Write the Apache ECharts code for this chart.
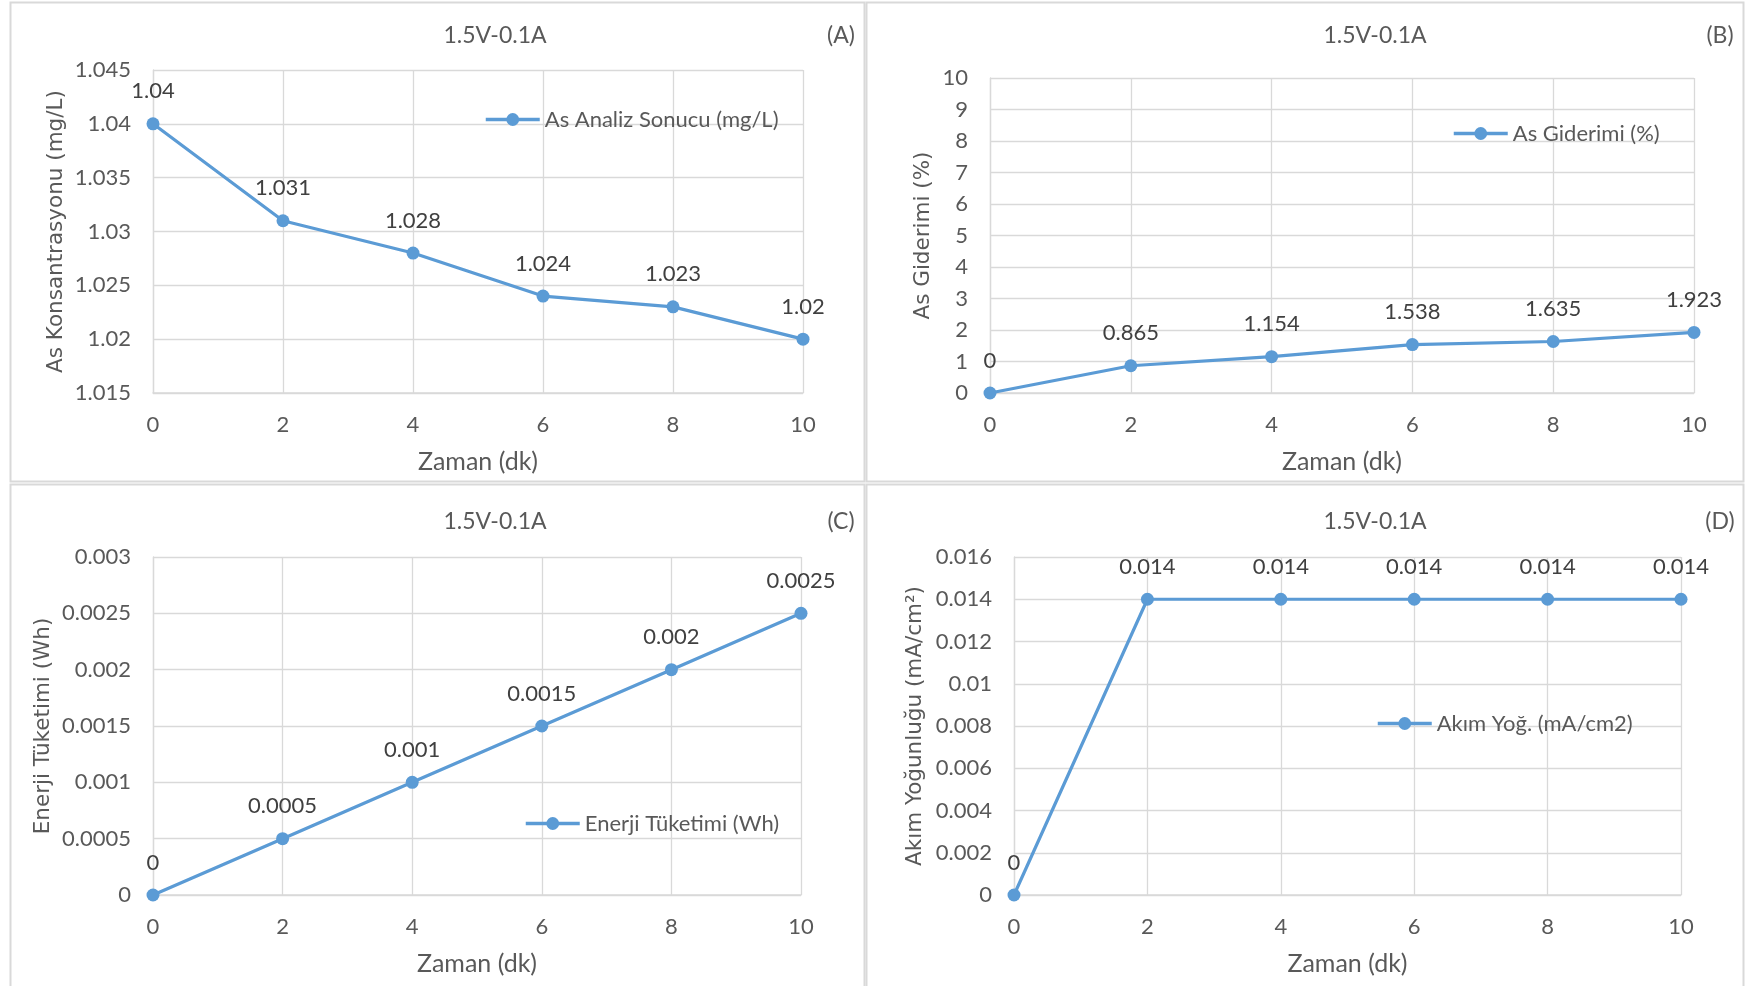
<!DOCTYPE html>
<html>
<head>
<meta charset="utf-8">
<script src="https://cdn.jsdelivr.net/npm/echarts@6/dist/echarts.min.js"></script>
<style>
  html, body { margin: 0; padding: 0; background: #ffffff; }
  #chart { width: 1751px; height: 986px; }
</style>
</head>
<body>
<div id="chart"></div>
<script>
// Sampling times (minutes)
const timeMin = [0, 2, 4, 6, 8, 10];

// Measured series
const asConcentration = [1.04, 1.031, 1.028, 1.024, 1.023, 1.02];   // mg/L
const asRemoval = [0, 0.865, 1.154, 1.538, 1.635, 1.923];            // %
const energyUse = [0, 0.0005, 0.001, 0.0015, 0.002, 0.0025];        // Wh
const currentDensity = [0, 0.014, 0.014, 0.014, 0.014, 0.014];      // mA/cm2

// Panel texts
const runTitle = '1.5V-0.1A';
const panelTags = ['(A)', '(B)', '(C)', '(D)'];
const seriesNames = ['As Analiz Sonucu (mg/L)', 'As Giderimi (%)', 'Enerji Tüketimi (Wh)', 'Akım Yoğ. (mA/cm2)'];
const yAxisNames = ['As Konsantrasyonu (mg/L)', 'As Giderimi (%)', 'Enerji Tüketimi (Wh)', 'Akım Yoğunluğu (mA/cm²)'];
const xAxisName = 'Zaman (dk)';

// Axis ranges
const yRanges = [
  { min: 1.015, max: 1.045, interval: 0.005 },
  { min: 0, max: 10, interval: 1 },
  { min: 0, max: 0.003, interval: 0.0005 },
  { min: 0, max: 0.016, interval: 0.002 }
];
const xRange = { min: 0, max: 10, interval: 2 };

const LINE = '#5b9bd5';
const GRID = '#d9d9d9';
const TICK = '#595959';
const LABEL = '#404040';
const FONT = 'Lato';

// Panel layout (pixels)
const grids = [
  { left: 153, top: 70, width: 650, height: 323 },
  { left: 990, top: 78, width: 704, height: 315 },
  { left: 153, top: 557, width: 648, height: 338 },
  { left: 1014, top: 557, width: 667, height: 338 }
];
const yNameGaps = [86, 56, 99, 88];
const legendPos = [
  { left: 484, top: 108.5 },
  { left: 1452, top: 122.5 },
  { left: 524, top: 812.5 },
  { left: 1376, top: 712.5 }
];
const titlePos = [
  { cx: 495, cy: 38, tx: 841 },
  { cx: 1375, cy: 38, tx: 1720 },
  { cx: 495, cy: 524, tx: 841 },
  { cx: 1375, cy: 524, tx: 1720 }
];
const panelBoxes = [
  { x: 10.5, y: 2.5, w: 854, h: 479 },
  { x: 866.5, y: 2.5, w: 877, h: 479 },
  { x: 10.5, y: 484.5, w: 854, h: 510 },
  { x: 866.5, y: 484.5, w: 877, h: 510 }
];

const seriesValues = [asConcentration, asRemoval, energyUse, currentDensity];

const clean = v => String(parseFloat(Number(v).toPrecision(6)));

const legendLine = { width: 3.5, color: LINE, opacity: 1 };

const option = {
  animation: false,
  backgroundColor: '#ffffff',
  textStyle: { fontFamily: FONT },
  grid: grids.map(g => Object.assign({ containLabel: false }, g)),
  title: titlePos.flatMap((p, i) => [
    {
      text: runTitle, left: p.cx, top: p.cy - 14, textAlign: 'center', padding: 0,
      textStyle: { fontFamily: FONT, fontSize: 23, fontWeight: 'normal', color: TICK }
    },
    {
      text: panelTags[i], left: p.tx, top: p.cy - 14, textAlign: 'center', padding: 0,
      textStyle: { fontFamily: FONT, fontSize: 23, fontWeight: 'normal', color: TICK }
    }
  ]),
  legend: legendPos.map((p, i) => ({
    data: [{ name: seriesNames[i], lineStyle: legendLine, itemStyle: { color: LINE } }],
    left: p.left, top: p.top, padding: 0,
    itemWidth: 54, itemHeight: 16,
    lineStyle: legendLine,
    itemStyle: { color: LINE },
    textStyle: { fontFamily: FONT, fontSize: 22, color: TICK }
  })),
  xAxis: grids.map((g, i) => ({
    type: 'value', gridIndex: i,
    min: xRange.min, max: xRange.max, interval: xRange.interval,
    name: xAxisName, nameLocation: 'middle', nameGap: 56,
    nameTextStyle: { fontFamily: FONT, fontSize: 25, color: TICK },
    axisLine: { show: true, lineStyle: { color: GRID, width: 1.5 } },
    axisTick: { show: false },
    axisLabel: { margin: 21, fontFamily: FONT, fontSize: 22, color: TICK },
    splitLine: { show: true, lineStyle: { color: GRID, width: 1.3 } }
  })),
  yAxis: yRanges.map((r, i) => ({
    type: 'value', gridIndex: i,
    min: r.min, max: r.max, interval: r.interval,
    name: yAxisNames[i], nameLocation: 'middle', nameGap: yNameGaps[i],
    nameTextStyle: { fontFamily: 'DejaVu Sans', fontSize: 21.5, color: TICK },
    axisLine: { show: true, lineStyle: { color: GRID, width: 1.3 } },
    axisTick: { show: false },
    axisLabel: { margin: 22, fontFamily: FONT, fontSize: 22, color: TICK, formatter: clean },
    splitLine: { show: true, lineStyle: { color: GRID, width: 1.3 } }
  })),
  series: seriesValues.map((vals, i) => ({
    name: seriesNames[i],
    type: 'line',
    xAxisIndex: i, yAxisIndex: i,
    data: timeMin.map((t, k) => [t, vals[k]]),
    symbol: 'circle', symbolSize: 13,
    lineStyle: { color: LINE, width: 3.2 },
    itemStyle: { color: LINE },
    label: {
      show: true, position: 'top', distance: 15,
      fontFamily: FONT, fontSize: 22, color: LABEL,
      formatter: p => clean(p.value[1])
    },
    z: 3
  })),
  graphic: panelBoxes.map(b => ({
    type: 'rect', silent: true, z: -10,
    shape: { x: b.x, y: b.y, width: b.w, height: b.h },
    style: { fill: 'transparent', stroke: GRID, lineWidth: 2 }
  }))
};

const chart = echarts.init(document.getElementById('chart'), null, { renderer: 'canvas' });
chart.setOption(option);
</script>
</body>
</html>
